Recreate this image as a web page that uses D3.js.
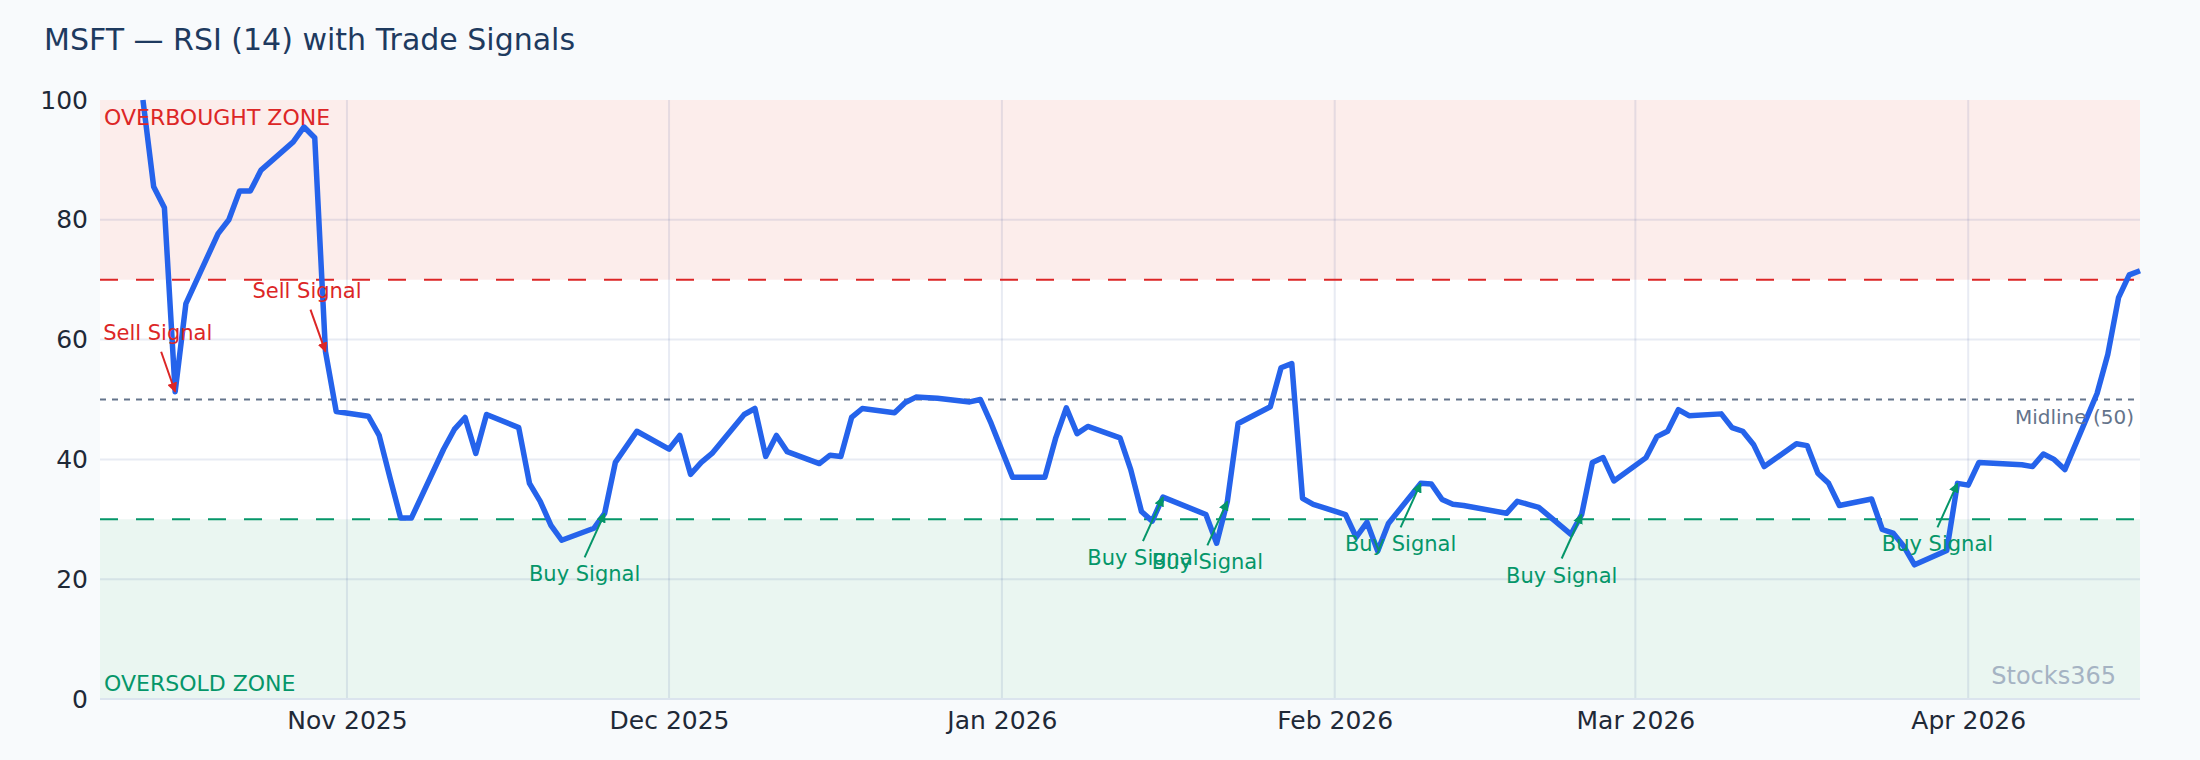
<!DOCTYPE html>
<html><head><meta charset="utf-8">
<script src="https://cdn.jsdelivr.net/npm/d3@7"></script>
<style>body{margin:0;background:#f8fafc;font-family:"DejaVu Sans",sans-serif}</style>
</head><body><svg id="c" width="2200" height="760"></svg>
<script>
const startDate = "2025-10-13", endDate = "2026-04-17";
const holidays = ["2025-11-27","2025-12-25","2026-01-01","2026-01-19","2026-02-16","2026-04-03"];
const rsi = [100,85.5,82,51.3,66,77.7,80,84.8,84.8,88.3,93,95.5,93.7,58,48,
47.2,44,37,30.2,30.2,41.7,45,47,41,47.5,45.3,36,33,29,26.5,28.5,31,39.5,44.7,
41.7,44,37.5,39.5,41,47.5,48.5,40.5,44,41.3,39.3,40.7,40.5,47,48.5,47.8,49.5,50.4,50.2,49.6,50,46,
37,37,43.5,48.6,44.3,45.5,43.6,38.3,31.3,29.7,33.7,30.8,26,33,46,48.8,55.3,56,33.5,32.5,
30.8,27,29.5,24.7,29.3,36,35.9,33.3,32.5,32.3,31,33,32.5,32,27.5,30.8,39.5,40.3,36.4,
40.3,43.8,44.7,48.3,47.3,47.6,45.3,44.7,42.5,38.8,42.6,42.3,37.7,36,32.3,33.4,28.3,27.7,25.5,22.4,24.8,36,
35.7,39.5,39.1,38.8,40.9,40,38.3,51,57.5,67,70.8,71.5];
const sellSignals = ["2025-10-16","2025-10-30"];
const buySignals = ["2025-11-25","2026-01-16","2026-01-22","2026-02-09","2026-02-24","2026-03-31"];
const yTicks = [0,20,40,60,80,100];
const xTicks = ["2025-11-01","2025-12-01","2026-01-01","2026-02-01","2026-03-01","2026-04-01"];

const parse = d3.utcParse("%Y-%m-%d"), fmt = d3.utcFormat("%Y-%m-%d");
const days = d3.utcDays(parse(startDate), d3.utcDay.offset(parse(endDate),1))
  .filter(d => d.getUTCDay()%6!==0 && !holidays.includes(fmt(d)));
const data = days.map((d,i)=>({d, v:rsi[i]}));
const byDate = new Map(data.map(p=>[fmt(p.d),p]));

const svg = d3.select("#c");
const L=100,R=2140,T=100,B=699;
const x = d3.scaleUtc().domain([parse("2025-10-09"), parse("2026-04-17")]).range([L,R]);
const y = d3.scaleLinear().domain([0,100]).range([B,T]);

svg.append("rect").attr("x",L).attr("y",T).attr("width",R-L).attr("height",B-T).attr("fill","#fff");
svg.append("rect").attr("x",L).attr("y",y(100)).attr("width",R-L).attr("height",y(70)-y(100)).attr("fill","#fcedeb");
svg.append("rect").attr("x",L).attr("y",y(30)).attr("width",R-L).attr("height",y(0)-y(30)).attr("fill","#eaf6f1");

const g = svg.append("g");
g.selectAll(".gy").data(yTicks.slice(1,5)).join("line").attr("x1",L).attr("x2",R)
 .attr("y1",d=>y(d)).attr("y2",d=>y(d)).attr("stroke","#1e3a8a").attr("stroke-opacity",0.1).attr("stroke-width",2);
g.selectAll(".gx").data(xTicks).join("line").attr("y1",T).attr("y2",B)
 .attr("x1",d=>x(parse(d))).attr("x2",d=>x(parse(d))).attr("stroke","#1e3a8a").attr("stroke-opacity",0.1).attr("stroke-width",2);
svg.append("line").attr("x1",L).attr("x2",R).attr("y1",B).attr("y2",B).attr("stroke","#dbe4ee").attr("stroke-width",2);

svg.append("line").attr("x1",L).attr("x2",R).attr("y1",y(70)).attr("y2",y(70)).attr("stroke","#dc2626").attr("stroke-width",2).attr("stroke-dasharray","18,18");
svg.append("line").attr("x1",L).attr("x2",R).attr("y1",y(30)).attr("y2",y(30)).attr("stroke","#059669").attr("stroke-width",2).attr("stroke-dasharray","18,18");
svg.append("line").attr("x1",L).attr("x2",R).attr("y1",y(50)).attr("y2",y(50)).attr("stroke","#64748b").attr("stroke-width",2).attr("stroke-dasharray","6,6");

const ya = svg.append("g").attr("transform",`translate(${L},0)`).call(d3.axisLeft(y).tickValues(yTicks).tickSize(0).tickPadding(12));
const xa = svg.append("g").attr("transform",`translate(0,${B})`).call(d3.axisBottom(x).tickValues(xTicks.map(parse)).tickFormat(d3.utcFormat("%b %Y")).tickSize(0).tickPadding(12));
[ya,xa].forEach(a=>{a.select(".domain").remove();a.selectAll("text").attr("font-size",25).attr("fill","#1f2937").attr("font-family","DejaVu Sans");});

svg.append("path").datum(data).attr("fill","none").attr("stroke","#2563eb").attr("stroke-width",5.5).attr("stroke-linejoin","round")
 .attr("d",d3.line().x(p=>x(p.d)).y(p=>y(p.v)));

svg.append("text").attr("x",104).attr("y",125).text("OVERBOUGHT ZONE").attr("fill","#dc2626").attr("font-size",22);
svg.append("text").attr("x",104).attr("y",691).text("OVERSOLD ZONE").attr("fill","#059669").attr("font-size",22);
svg.append("text").attr("x",2134).attr("y",424).attr("text-anchor","end").text("Midline (50)").attr("fill","#64748b").attr("font-size",20);
svg.append("text").attr("x",2116).attr("y",684).attr("text-anchor","end").text("Stocks365").attr("fill","#94a3b8").attr("font-size",24).attr("opacity",0.8);
svg.append("text").attr("x",44).attr("y",50).text("MSFT — RSI (14) with Trade Signals").attr("fill","#1e3a5f").attr("font-size",30);

const defs = svg.append("defs");
[["r","#dc2626"],["g","#059669"]].forEach(([id,c])=>defs.append("marker").attr("id",id).attr("viewBox","0 0 10 10").attr("refX",9).attr("refY",5)
 .attr("markerWidth",5).attr("markerHeight",5).attr("orient","auto").append("path").attr("d","M0,0L10,5L0,10z").attr("fill",c));

function ann(dateStr, label, color, mk, dx, dy, anchor){
  const p = byDate.get(dateStr), px=x(p.d), py=y(p.v);
  const tx = px+dx, ty = py+dy;
  svg.append("line").attr("x1",tx+(anchor==="start"?58:0)).attr("y1",ty+(dy>0?-24:12)).attr("x2",px).attr("y2",py)
    .attr("stroke",color).attr("stroke-width",2).attr("marker-end",`url(#${mk})`);
  svg.append("text").attr("x",tx).attr("y",ty).attr("text-anchor",anchor).text(label)
    .attr("fill",color).attr("font-size",21);
}
ann(sellSignals[0],"Sell Signal","#dc2626","r",-72,-52,"start");
ann(sellSignals[1],"Sell Signal","#dc2626","r",-73,-54,"start");
buySignals.forEach(d=>ann(d,"Buy Signal","#059669","g",-20,68,"middle"));
</script></body></html>
